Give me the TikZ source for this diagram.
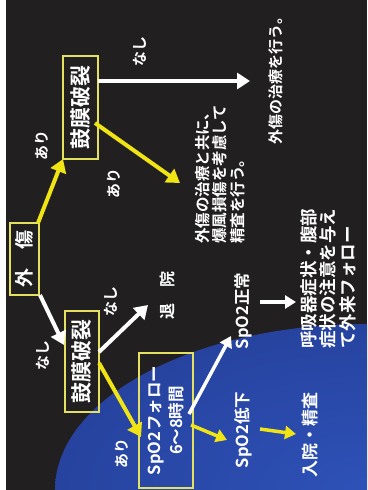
\documentclass[tikz,border=0pt]{standalone}
\usepackage{fontspec}
\usetikzlibrary{arrows.meta}
\newfontfamily\jp{Noto Sans CJK JP}[BoldFont={Noto Sans CJK JP Bold}]
\definecolor{bgdark}{RGB}{34,31,32}
\definecolor{boxyellow}{RGB}{228,224,96}
\definecolor{arryellow}{RGB}{240,228,20}
\pgfdeclareradialshading{bluerad}{\pgfpoint{0bp}{0bp}}{rgb(0bp)=(0.18,0.32,0.72); rgb(26bp)=(0.15,0.26,0.62); rgb(40bp)=(0.12,0.17,0.46); rgb(47bp)=(0.09,0.11,0.30); rgb(50bp)=(0.08,0.08,0.20)}
\begin{document}
\begin{tikzpicture}[x=1pt,y=-1pt,
  every node/.style={rotate=90, text=white, inner sep=0pt, font=\jp\bfseries},
  box/.style={draw=boxyellow, line width=1.6pt, align=center},
  warr/.style={draw=white, line width=4pt, -{Triangle[length=13pt,width=16pt]}},
  yarr/.style={draw=arryellow, line width=4pt, -{Triangle[length=13pt,width=16pt]}},
  wsm/.style={draw=white, line width=3.5pt, -{Triangle[length=11pt,width=13pt]}},
  ysm/.style={draw=arryellow, line width=3.5pt, -{Triangle[length=11pt,width=13pt]}},
  lbl/.style={font=\jp\bfseries\fontsize{15}{17}\selectfont},
  txt/.style={align=left, font=\jp\bfseries\fontsize{15.5}{17.5}\selectfont},
]
\useasboundingbox (0,0) rectangle (367,490);
\fill[white] (0,0) rectangle (367,490);
\fill[bgdark] (6,0) rectangle (367,490);
\begin{scope}
  \clip (6,0) rectangle (367,490);
  \shade[shading=bluerad] (367,490) ellipse [x radius=312, y radius=166];
\end{scope}

% boxes
\node[box, minimum width=72, minimum height=29, font=\jp\bfseries\fontsize{19}{21}\selectfont] (trauma) at (24.5,259) {外\hspace{1em}傷};
\node[box, minimum width=103, minimum height=35, font=\jp\bfseries\fontsize{21}{23}\selectfont] (tm1) at (80.5,107.5) {鼓膜破裂};
\node[box, minimum width=101, minimum height=34, font=\jp\bfseries\fontsize{21}{23}\selectfont] (tm2) at (82,361.5) {鼓膜破裂};
\node[box, minimum width=135, minimum height=54, font=\jp\bfseries\fontsize{16.5}{22}\selectfont] (spo) at (166,420.5) {SpO2フォロー\\6～8時間};

% labels
\node[lbl] (ari1) at (42,145) {あり};
\node[lbl] (nashi1) at (139.5,51) {なし};
\node[lbl] (ari2) at (114,183) {あり};
\node[lbl] (nashi2) at (43,355) {なし};
\node[lbl] (nashi3) at (111,301) {なし};
\node[lbl, font=\jp\bfseries\fontsize{16}{18}\selectfont] (taiin) at (167,295) {退\hspace{1em}院};
\node[lbl] (ari3) at (122,453) {あり};
\node[font=\jp\bfseries\fontsize{16.5}{18}\selectfont] (spon) at (243,311) {SpO2正常};
\node[font=\jp\bfseries\fontsize{16.5}{18}\selectfont] (spol) at (243,430) {SpO2低下};
\node[font=\jp\bfseries\fontsize{17}{19}\selectfont] (nyuin) at (310.5,435) {入院・精査};
\node[font=\jp\bfseries\fontsize{15}{17}\selectfont] (treat1) at (275.5,77) {外傷の治療を行う。};
\node[txt, anchor=north west] (treat2) at (195,244) {外傷の治療と共に、\\爆風損傷を考慮して\\精査を行う。};
\node[txt, anchor=north west, font=\jp\bfseries\fontsize{17.5}{19.5}\selectfont] (kokyu) at (300,349) {呼吸器症状・腹部\\症状の注意を与え\\て外来フォロー};

% arrows
\draw[yarr] ([shift={(13.5,-36)}]trauma.center) -- ([shift={(-17.5,51.5)}]tm1.center);
\draw[warr] ([shift={(17.5,-26.5)}]tm1.center) -- ([shift={(-25.5,4)}]treat1.center);
\draw[yarr] ([shift={(14.5,15.5)}]tm1.center) -- ([shift={(-15,-61)}]treat2.north west);
\draw[warr] ([shift={(15.5,36)}]trauma.center) -- ([shift={(-18,-16.5)}]tm2.center);
\draw[warr] ([shift={(17,-9.5)}]tm2.center) -- ([shift={(-19,10)}]taiin.center);
\draw[yarr] ([shift={(17,1.5)}]tm2.center) -- ([shift={(-25,16.5)}]spo.center);
\draw[wsm] ([shift={(23,-6.5)}]spo.center) -- ([shift={(-12,25)}]spon.center);
\draw[ysm] ([shift={(25,4.5)}]spo.center) -- ([shift={(-16,10)}]spol.center);
\draw[wsm] ([shift={(17,-9)}]spon.center) -- ([shift={(-4,-47)}]kokyu.north west);
\draw[ysm] ([shift={(17,-1)}]spol.center) -- ([shift={(-14.5,-1)}]nyuin.center);
\end{tikzpicture}
\end{document}
